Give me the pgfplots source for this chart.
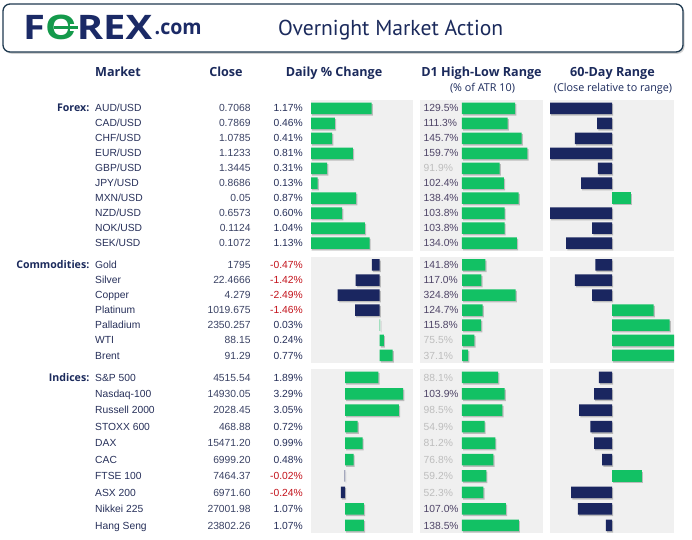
\documentclass[border=0pt]{standalone}
\usepackage{fontspec}
\setmainfont{Liberation Sans}
\newfontfamily\osans{Open Sans}
\newfontfamily\ptsans{PT Sans}
\usepackage{pgfplots}
\usepackage{pgfplotstable}
\pgfplotsset{compat=1.18}
\usetikzlibrary{shadows}

\definecolor{fxgreen}{HTML}{12C164}
\definecolor{fxnavy}{HTML}{1A2660}
\definecolor{logogreen}{HTML}{149A4B}
\definecolor{logonavy}{HTML}{1B2A66}
\definecolor{panel}{HTML}{F0F0F0}
\definecolor{hdr}{HTML}{1B2A5C}
\definecolor{txt}{HTML}{27305A}
\definecolor{cls}{HTML}{3A4264}
\definecolor{neg}{HTML}{C3121B}
\definecolor{hi}{HTML}{4E4467}
\definecolor{lo}{HTML}{BDBDBD}
\definecolor{border}{HTML}{1F3A50}

\pgfplotstableread[col sep=comma]{
name,close,chg,d1,r60
AUD/USD,0.7068,1.17,129.5,-1.00
CAD/USD,0.7869,0.46,111.3,-0.24
CHF/USD,1.0785,0.41,145.7,-0.60
EUR/USD,1.1233,0.81,159.7,-1.00
GBP/USD,1.3445,0.31,91.9,-0.23
JPY/USD,0.8686,0.13,102.4,-0.50
MXN/USD,0.05,0.87,138.4,0.30
NZD/USD,0.6573,0.60,103.8,-1.00
NOK/USD,0.1124,1.04,103.8,-0.32
SEK/USD,0.1072,1.13,134.0,-0.74
}\forex

\pgfplotstableread[col sep=comma]{
name,close,chg,d1,r60
Gold,1795,-0.47,141.8,-0.27
Silver,22.4666,-1.42,117.0,-0.60
Copper,4.279,-2.49,324.8,-0.32
Platinum,1019.675,-1.46,124.7,0.67
Palladium,2350.257,0.03,115.8,0.93
WTI,88.15,0.24,75.5,1.00
Brent,91.29,0.77,37.1,1.00
}\comm

\pgfplotstableread[col sep=comma]{
name,close,chg,d1,r60
{S\&P 500},4515.54,1.89,88.1,-0.21
Nasdaq-100,14930.05,3.29,103.9,-0.29
Russell 2000,2028.45,3.05,98.5,-0.53
STOXX 600,468.88,0.72,54.9,-0.35
DAX,15471.20,0.99,81.2,-0.29
CAC,6999.20,0.48,76.8,-0.16
FTSE 100,7464.37,-0.02,59.2,0.48
ASX 200,6971.60,-0.24,52.3,-0.66
Nikkei 225,27001.98,1.07,107.0,-0.55
Hang Seng,23802.26,1.07,138.5,-0.10
}\indi

\newcommand\bodyfont{\fontsize{10.3}{12}\selectfont}
\newcommand\hdrfont{\osans\bfseries\fontsize{12.6}{14}\selectfont}
\newcommand\subfont{\osans\fontsize{10.8}{12}\selectfont}

\pgfplotsset{
  txtax/.style={scale only axis, width=692pt, xmin=0, xmax=692, hide axis,
    y dir=reverse, clip=false, anchor=north west},
  barax/.style={scale only axis, y dir=reverse, anchor=north west,
    axis line style={draw=none}, xtick=\empty, ytick=\empty,
    axis background/.style={fill=panel}},
  gF/.style={height=151pt, ymin=-0.553, ymax=9.52},
  gC/.style={height=106pt, ymin=-0.55, ymax=6.49},
  gI/.style={height=163.7pt, ymin=-0.505, ymax=9.45},
  bars/.style={xbar, bar width=11.5pt, draw=none,
    drop shadow={shadow xshift=1.2pt, shadow yshift=-1.5pt, opacity=0.22, fill=black}},
  lbl/.style={draw=none, point meta=explicit symbolic, nodes near coords,
    every node near coord/.append style={inner sep=0pt, yshift=-3.7pt, font=\bodyfont}},
  pct/.style={nodes near coords={\pgfplotspointmeta\%}},
  dailyF/.style={barax, gF, width=102pt, xmin=0, xmax=1.969},
  dailyC/.style={barax, gC, width=102pt, xmin=-4.065, xmax=1.97},
  dailyI/.style={barax, gI, width=102pt, xmin=-1.921, xmax=3.842},
  dF/.style={barax, gF, width=123pt, xmin=-102.4, xmax=197.6},
  dC/.style={barax, gC, width=123pt, xmin=-254.5, xmax=490.9},
  dI/.style={barax, gI, width=123pt, xmin=-102.4, xmax=197.6},
  rng/.style={width=124pt, xmin=-1, xmax=1},
}

% text columns of one group
\newcommand\textcols[2]{%
  \addplot[lbl, every node near coord/.append style={anchor=base west, text=txt}]
    table[x expr=95, y expr=\coordindex, meta=name]{#1};
  \addplot[lbl, every node near coord/.append style={anchor=base east, text=cls}]
    table[x expr=250.7, y expr=\coordindex, meta=close]{#1};
  \addplot[lbl, pct, restrict expr to domain={\thisrow{chg}}{0:100},
    every node near coord/.append style={anchor=base east, text=txt}]
    table[x expr=303, y expr=\coordindex, meta=chg]{#1};
  \addplot[lbl, pct, restrict expr to domain={\thisrow{chg}}{-100:-0.0001},
    every node near coord/.append style={anchor=base east, text=neg}]
    table[x expr=303, y expr=\coordindex, meta=chg]{#1};
  \addplot[lbl, pct, restrict expr to domain={\thisrow{d1}}{100:1000},
    every node near coord/.append style={anchor=base west, text=hi}]
    table[x expr=423.5, y expr=\coordindex, meta=d1]{#1};
  \addplot[lbl, pct, restrict expr to domain={\thisrow{d1}}{0:99.99},
    every node near coord/.append style={anchor=base west, text=lo}]
    table[x expr=423.5, y expr=\coordindex, meta=d1]{#1};
  \node[anchor=base east, inner sep=0pt, yshift=-3.7pt, text=hdr,
    font=\osans\bfseries\fontsize{10.6}{12}\selectfont] at (axis cs:89.5,0) {#2};
}

\begin{document}
\begin{tikzpicture}
\useasboundingbox (0,0) rectangle (692pt,539pt);
\fill[white] (0,0) rectangle (692pt,539pt);

% header box
\draw[border, line width=1.3pt, rounded corners=7pt, fill=white,
  drop shadow={shadow xshift=1.5pt, shadow yshift=-1.8pt, opacity=0.35}]
  (3pt,535pt) rectangle (683pt,487pt);
\node[anchor=base west, inner sep=0pt] at (23pt,499.7pt)
  {\resizebox{129pt}{24.5pt}{\osans\bfseries\textcolor{logonavy}{F}\textcolor{logogreen}{O}\textcolor{logonavy}{REX}}};
% bar across the O of the logo
\fill[white] (69.5pt,515.2pt) rectangle (79pt,508.4pt);
\fill[logogreen] (54pt,513.3pt) rectangle (77.5pt,510.3pt);
\node[anchor=base west, inner sep=0pt] at (154.5pt,504pt)
  {\resizebox{47pt}{11.5pt}{\osans\bfseries\textcolor{logonavy}{.com}}};
\node[anchor=base west, inner sep=0pt, text=hdr] at (278pt,503.5pt)
  {\resizebox{225pt}{!}{\ptsans Overnight Market Action}};

% column headers
\begin{scope}[every node/.style={inner sep=0pt, text=hdr}]
\node[anchor=base west, font=\hdrfont] at (95pt,462pt) {Market};
\node[anchor=base, font=\hdrfont] at (226pt,462pt) {Close};
\node[anchor=base, font=\hdrfont] at (334pt,462pt) {Daily \% Change};
\node[anchor=base, font=\hdrfont] at (481.5pt,462pt) {D1 High-Low Range};
\node[anchor=base, font=\hdrfont] at (612.5pt,462pt) {60-Day Range};
\node[anchor=base, font=\subfont] at (482.5pt,447pt) {(\% of ATR 10)};
\node[anchor=base, font=\subfont] at (613pt,447pt) {(Close relative to range)};
\end{scope}

%================ FOREX
\begin{axis}[dailyF, at={(311pt,439pt)}]
  \addplot[bars, fill=fxgreen] table[x=chg, y expr=\coordindex]{\forex};
\end{axis}
\begin{axis}[dF, at={(420pt,439pt)}]
  \addplot[bars, fill=fxgreen] table[x=d1, y expr=\coordindex]{\forex};
\end{axis}
\begin{axis}[barax, gF, rng, at={(550pt,439pt)}]
  \addplot[bars, fill=fxnavy, restrict x to domain=-5:0] table[x=r60, y expr=\coordindex]{\forex};
  \addplot[bars, fill=fxgreen, restrict x to domain=0:5] table[x=r60, y expr=\coordindex]{\forex};
\end{axis}
\begin{axis}[txtax, gF, at={(0pt,439pt)}]
  \textcols{\forex}{Forex:}
\end{axis}

%================ COMMODITIES
\begin{axis}[dailyC, at={(311pt,282.3pt)}]
  \addplot[bars, fill=fxnavy, restrict x to domain=-10:0] table[x=chg, y expr=\coordindex]{\comm};
  \addplot[bars, fill=fxgreen, restrict x to domain=0:10] table[x=chg, y expr=\coordindex]{\comm};
\end{axis}
\begin{axis}[dC, at={(420pt,282.3pt)}]
  \addplot[bars, fill=fxgreen] table[x=d1, y expr=\coordindex]{\comm};
\end{axis}
\begin{axis}[barax, gC, rng, at={(550pt,282.3pt)}]
  \addplot[bars, fill=fxnavy, restrict x to domain=-5:0] table[x=r60, y expr=\coordindex]{\comm};
  \addplot[bars, fill=fxgreen, restrict x to domain=0:5] table[x=r60, y expr=\coordindex]{\comm};
\end{axis}
\begin{axis}[txtax, gC, at={(0pt,282.3pt)}]
  \textcols{\comm}{Commodities:}
\end{axis}

%================ INDICES
\begin{axis}[dailyI, at={(311pt,170pt)}]
  \addplot[bars, fill=fxnavy, restrict x to domain=-10:0] table[x=chg, y expr=\coordindex]{\indi};
  \addplot[bars, fill=fxgreen, restrict x to domain=0:10] table[x=chg, y expr=\coordindex]{\indi};
\end{axis}
\begin{axis}[dI, at={(420pt,170pt)}]
  \addplot[bars, fill=fxgreen] table[x=d1, y expr=\coordindex]{\indi};
\end{axis}
\begin{axis}[barax, gI, rng, at={(550pt,170pt)}]
  \addplot[bars, fill=fxnavy, restrict x to domain=-5:0] table[x=r60, y expr=\coordindex]{\indi};
  \addplot[bars, fill=fxgreen, restrict x to domain=0:5] table[x=r60, y expr=\coordindex]{\indi};
\end{axis}
\begin{axis}[txtax, gI, at={(0pt,170pt)}]
  \textcols{\indi}{Indices:}
\end{axis}
\end{tikzpicture}
\end{document}
